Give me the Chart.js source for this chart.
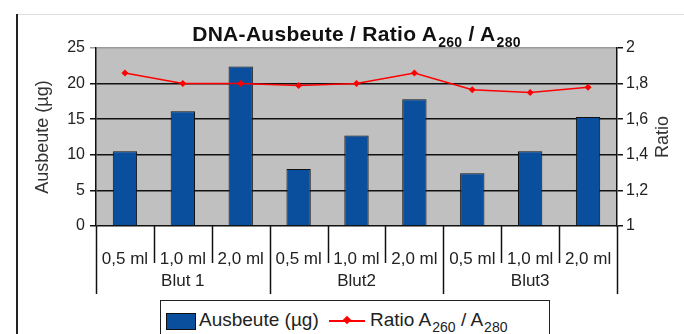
<!DOCTYPE html>
<html lang="de">
<head>
    <meta charset="UTF-8">
    <title>DNA-Ausbeute / Ratio</title>
    <style>
        body { margin: 0; background: #fff; font-family: "Liberation Sans", Arial, sans-serif; }
        #wrap { position: relative; width: 684px; height: 334px; overflow: hidden; }
        #myChart { position: absolute; left: 0; top: 0; }
        #title { position: absolute; left: 96px; width: 521px; top: 22px; text-align: center;
                 font-weight: bold; font-size: 21px; color: #111; white-space: nowrap; letter-spacing: 0.3px; }
        #legend { position: absolute; left: 160px; top: 300px; width: 388px; height: 40px;
                  border: 1.5px solid #222; background: #fff; font-size: 19px; color: #222; }
        #legend .sw { position: absolute; left: 5px; top: 12px; width: 28px; height: 15px;
                      background: #0a4f9e; border: 1px solid #111; }
        #legend .t1 { position: absolute; left: 38px; top: 8px; }
        #legend .ln { position: absolute; left: 168px; top: 19px; width: 36px; height: 2px; background: #f00; }
        #legend .dm { position: absolute; left: 183px; top: 16px; width: 6px; height: 6px; background: #f00; transform: rotate(45deg); }
        #legend .t2 { position: absolute; left: 209px; top: 8px; white-space: nowrap; }
        #legend sub { font-size: 14px; vertical-align: -6px; margin-left: 1px; }
        #title sub { font-size: 14px; vertical-align: -6px; margin-left: 1px; }
    </style>
</head>
<body>
<div id="wrap">
    <canvas id="myChart" width="684" height="334"></canvas>
    <div id="title">DNA-Ausbeute / Ratio A<sub>260</sub> / A<sub>280</sub></div>
    <div id="legend">
        <span class="sw"></span><span class="t1">Ausbeute (µg)</span>
        <span class="ln"></span><span class="dm"></span>
        <span class="t2">Ratio A<sub>260</sub> / A<sub>280</sub></span>
    </div>
</div>
<script src="https://cdn.jsdelivr.net/npm/chart.js"></script>
<script>
    const groups = ['Blut 1', 'Blut2', 'Blut3']
    const volumes = ['0,5 ml', '1,0 ml', '2,0 ml']
    const ausbeute = [10.5, 16.1, 22.4, 8.0, 12.7, 17.8, 7.4, 10.5, 15.3]
    const ratio = [1.86, 1.80, 1.80, 1.79, 1.80, 1.86, 1.765, 1.75, 1.78]
    const leftTitle = 'Ausbeute (µg)'
    const rightTitle = 'Ratio'

    const labels = []
    groups.forEach(g => volumes.forEach(v => labels.push(v)))

    const fam = '"Liberation Sans", Arial, sans-serif'
    const font = { family: fam, size: 17 }
    const yFont = { family: fam, size: 16 }

    // grauer Hintergrund, Rahmen links, Achsentitel, Trennstriche und Gruppen unter der x-Achse
    const deco = {
        id: 'deco',
        beforeDraw(chart) {
            const c = chart.ctx, a = chart.chartArea
            c.save()
            c.fillStyle = '#c0c0c0'
            c.fillRect(a.left, a.top, a.right - a.left, a.bottom - a.top)
            c.strokeStyle = '#222'
            c.lineWidth = 2
            c.beginPath(); c.moveTo(17, 14); c.lineTo(17, 334); c.stroke()
            c.strokeStyle = '#ddd'
            c.lineWidth = 1
            c.beginPath(); c.moveTo(18, 14.5); c.lineTo(684, 14.5); c.stroke()
            c.restore()
        },
        afterDraw(chart) {
            const c = chart.ctx, a = chart.chartArea, x = chart.scales.x
            const n = labels.length
            const step = (a.right - a.left) / n
            c.save()
            c.strokeStyle = '#111'
            c.lineWidth = 1.5
            for (let i = 0; i <= n; i++) {
                const px = Math.round(x.getPixelForValue(i) - step / 2) + 0.5
                const long = i % volumes.length === 0
                c.beginPath()
                c.moveTo(px, a.bottom)
                c.lineTo(px, a.bottom + (long ? 68 : 37))
                c.stroke()
            }
            c.fillStyle = '#222'
            c.font = '17px ' + fam
            c.textAlign = 'center'
            c.textBaseline = 'middle'
            groups.forEach((g, gi) => {
                const mid = x.getPixelForValue(gi * volumes.length + (volumes.length - 1) / 2)
                c.fillText(g, mid, a.bottom + 55)
            })
            // Achsentitel, beide von unten nach oben
            const cy = (a.top + a.bottom) / 2
            c.fillStyle = '#333'
            c.font = '18px ' + fam
            c.translate(43, cy); c.rotate(-Math.PI / 2); c.fillText(leftTitle, 0, 0)
            c.setTransform(1, 0, 0, 1, 0, 0)
            c.translate(663, cy); c.rotate(-Math.PI / 2); c.fillText(rightTitle, 0, 0)
            c.restore()
        }
    }

    const cfg = {
        data: {
            labels: labels,
            datasets: [{
                type: 'line',
                label: 'Ratio A260 / A280',
                data: ratio,
                yAxisID: 'y1',
                borderColor: '#ff0000',
                backgroundColor: '#ff0000',
                borderWidth: 1.5,
                pointStyle: 'rectRot',
                pointRadius: 3.5,
                pointBorderWidth: 0,
                tension: 0
            }, {
                type: 'bar',
                label: 'Ausbeute (µg)',
                data: ausbeute,
                yAxisID: 'y',
                backgroundColor: '#0a4f9e',
                borderColor: '#111',
                borderWidth: 1,
                barPercentage: 0.42,
                categoryPercentage: 1
            }]
        },
        options: {
            responsive: false,
            animation: false,
            layout: { padding: { left: 0, right: 0, top: 48, bottom: 0 } },
            plugins: { legend: { display: false }, tooltip: { enabled: false } },
            scales: {
                x: {
                    offset: true,
                    grid: { display: false },
                    border: { display: false },
                    ticks: { color: '#222', font: font, padding: 15, maxRotation: 0, autoSkip: false },
                    afterFit(s) { s.height = 108 }
                },
                y: {
                    position: 'left',
                    min: 0, max: 25,
                    ticks: { stepSize: 5, color: '#222', font: yFont, padding: 5 },
                    grid: {
                        color: ctx => ctx.tick && ctx.tick.value === 25 ? '#9a9a9a' : '#111',
                        lineWidth: 1.5,
                        tickLength: 6
                    },
                    border: { color: '#111', width: 1.5 },
                    afterFit(s) { s.width = 96 }
                },
                y1: {
                    position: 'right',
                    min: 1, max: 2,
                    ticks: {
                        stepSize: 0.2, color: '#222', font: yFont, padding: 3,
                        callback: v => String(Math.round(v * 10) / 10).replace('.', ',')
                    },
                    grid: { drawOnChartArea: false, color: '#111', lineWidth: 1.5, tickLength: 6 },
                    border: { color: '#111', width: 1.5 },
                    afterFit(s) { s.width = 67 }
                }
            }
        },
        plugins: [deco]
    }
    new Chart(document.getElementById('myChart').getContext('2d'), cfg)
</script>
</body>
</html>
